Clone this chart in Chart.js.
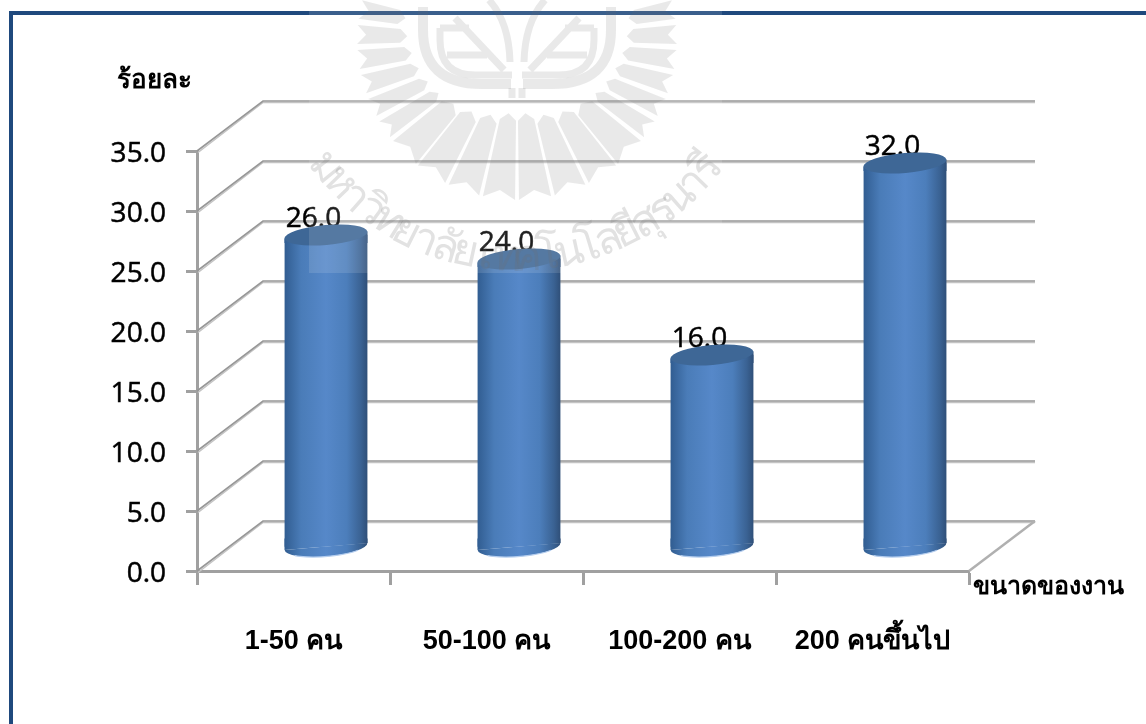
<!DOCTYPE html>
<html>
<head>
<meta charset="utf-8">
<style>html,body{margin:0;padding:0;background:#fff;overflow:hidden}canvas{display:block}</style>
<script src="https://cdn.jsdelivr.net/npm/chart.js@4"></script>
</head>
<body>
<canvas id="c" width="1146" height="724" style="width:1146px;height:724px"></canvas>
<script>
const categories = ["1-50 คน", "50-100 คน", "100-200 คน", "200 คนขึ้นไป"];
const values = [26.0, 24.0, 16.0, 32.0];
const yTitle = "ร้อยละ";
const xTitle = "ขนาดของงาน";
const watermarkClusters = ["ม","ห","า","วิ","ท","ย","า","ลั","ย","เ","ท","ค","โ","น","โ","ล","ยี","สุ","ร","น","า","รี"];

const DX = 66, DY = -50;         // depth of the 3D box
const BX = 32.5, BY = -24;       // bar offset into the box
const TILT = -0.085, RY = 10;
const FONT = '"Open Sans","Liberation Sans",sans-serif';
const THAI = '"Liberation Sans","Noto Sans","DejaVu Sans",sans-serif';

function barGradient(c, xc, w) {
  const g = c.createLinearGradient(xc - w/2, 0, xc + w/2, 0);
  g.addColorStop(0, '#315d91');
  g.addColorStop(0.2, '#4a7cb8');
  g.addColorStop(0.5, '#5688c9');
  g.addColorStop(0.75, '#4c7ebb');
  g.addColorStop(0.92, '#3a6293');
  g.addColorStop(1, '#2f4f78');
  return g;
}

const box3d = {
  id: 'box3d',
  beforeDraw(chart) {
    // nudge the value-axis labels down to sit where the reference has them
    const items = chart.scales.y.getLabelItems();
    if (!items._nudged) {
      items.forEach(it => { it.options.translation[1] += 3; });
      items._nudged = true;
    }
  },
  beforeDatasetsDraw(chart) {
    const c = chart.ctx, y = chart.scales.y, a = chart.chartArea;
    c.save();
    y.ticks.forEach(t => {
      const p = y.getPixelForValue(t.value);
      c.lineCap = 'butt';
      c.strokeStyle = '#c4c4c4'; c.lineWidth = 1.5;
      c.beginPath(); c.moveTo(a.left + 1, p + 1.5); c.lineTo(a.left + DX, p + DY + 1.5); c.lineTo(a.right + DX, p + DY + 1.5); c.stroke();
      c.strokeStyle = '#979797'; c.lineWidth = 1.6;
      c.beginPath(); c.moveTo(a.left, p); c.lineTo(a.left + DX, p + DY); c.lineTo(a.right + DX, p + DY); c.stroke();
    });
    const p0 = y.getPixelForValue(0);
    c.strokeStyle = '#b0b0b0'; c.lineWidth = 2.5;
    c.beginPath(); c.moveTo(a.right, p0); c.lineTo(a.right + DX, p0 + DY); c.stroke();
    // data labels sit behind the cylinder tops
    const meta = chart.getDatasetMeta(0);
    c.fillStyle = '#000'; c.strokeStyle = '#000'; c.lineWidth = 0.5;
    c.font = '28px ' + FONT; c.textAlign = 'center'; c.textBaseline = 'alphabetic';
    meta.data.forEach((b, i) => {
      const s = values[i].toFixed(1);
      c.fillText(s, b.x + 20, b.y + BY - 8);
      c.strokeText(s, b.x + 20, b.y + BY - 8);
    });
    c.restore();
    // slanted clip so that flat bar ends do not poke out of the ellipses
    c.save();
    c.translate(BX, BY);
    c.beginPath();
    meta.data.forEach(b => {
      const l = b.x - b.width/2, r = b.x + b.width/2, s = Math.tan(-TILT) * b.width/2;
      c.moveTo(l, b.y + s); c.lineTo(r, b.y - s); c.lineTo(r, b.base - s); c.lineTo(l, b.base + s); c.closePath();
    });
    c.clip();
  },
  afterDatasetsDraw(chart) {
    const c = chart.ctx;
    c.restore();
    const meta = chart.getDatasetMeta(0);
    c.save();
    c.translate(BX, BY);
    meta.data.forEach(b => {
      const rx = b.width/2, l = b.x - rx, r = b.x + rx, s = Math.tan(-TILT) * rx;
      c.fillStyle = barGradient(c, b.x, b.width);
      // fill the slivers between the flat bar ends and the tilted ellipses
      c.beginPath(); c.moveTo(l, b.base - 8); c.lineTo(r, b.base - 8); c.lineTo(r, b.base - s); c.lineTo(l, b.base + s); c.closePath(); c.fill();
      c.beginPath(); c.moveTo(l, b.y + s); c.lineTo(r, b.y - s); c.lineTo(r, b.y + 8); c.lineTo(l, b.y + 8); c.closePath(); c.fill();
      c.beginPath(); c.ellipse(b.x, b.base, rx, RY, TILT, 0, Math.PI); c.fill();
      c.strokeStyle = '#b4cdee'; c.lineWidth = 1.2;
      c.beginPath(); c.ellipse(b.x, b.base, rx, RY, TILT, 0.7, Math.PI - 0.7); c.stroke();
      c.fillStyle = '#3e6796';
      c.beginPath(); c.ellipse(b.x, b.y, rx, RY, TILT, 0, Math.PI * 2); c.fill();
    });
    c.restore();
    c.save();
    c.fillStyle = '#000';
    c.font = 'bold 26px ' + THAI; c.textBaseline = 'alphabetic'; c.textAlign = 'left';
    c.fillText(yTitle, 117, 88);
    c.font = 'bold 25px ' + THAI;
    c.fillText(xTitle, 973, 594);
    c.restore();
  }
};

function drawLogo(c) {
  const cx = 517, cy = 40, ink = 'rgba(110,110,110,0.15)';
  c.fillStyle = ink; c.strokeStyle = ink;
  const big = [6.5, 19.5, 32.5, 45], thin = [56, 65, 74, 83, 92, 101];
  const ray = (deg, half) => {
    const ab = Math.abs(deg), r0 = 78 + ab / 90 * 38, r1 = 160;
    const a = (90 + deg) * Math.PI / 180, h = half * Math.PI / 180;
    const P = (ang, r) => [cx + Math.cos(ang) * r, cy + Math.sin(ang) * r];
    const pts = [P(a - h, r0), P(a, r0 - 7), P(a + h, r0), P(a + h, r1), P(a, r1 - 9), P(a - h, r1)];
    c.beginPath(); pts.forEach((p, i) => i ? c.lineTo(p[0], p[1]) : c.moveTo(p[0], p[1])); c.closePath(); c.fill();
  };
  [-1, 1].forEach(s => {
    big.forEach(d => ray(s * d, 5.8));
    thin.forEach(d => ray(s * d, 3.4));
  });
  c.lineCap = 'butt';
  c.lineWidth = 10; c.beginPath();
  [-1, 1].forEach(s => {
    const X = d => cx + s * d;
    c.moveTo(X(94), 7); c.lineTo(X(94), 30); c.quadraticCurveTo(X(94), 84, X(35), 84); c.lineTo(X(6), 84);
  });
  c.stroke();
  c.lineWidth = 7; c.beginPath();
  [-1, 1].forEach(s => {
    const X = d => cx + s * d;
    c.moveTo(X(77), 28); c.lineTo(X(77), 40); c.quadraticCurveTo(X(77), 75, X(42), 75); c.lineTo(X(5), 75);
    c.moveTo(X(62), 18); c.lineTo(X(13), 70);
    c.moveTo(X(77), 28); c.lineTo(X(48), 28);
    c.moveTo(X(70), 55); c.lineTo(X(30), 55);
    c.moveTo(X(28), 0); c.quadraticCurveTo(X(8), 22, X(7), 62);
    c.moveTo(X(5), 88); c.lineTo(X(5), 98);
  });
  c.stroke();
}

function drawWatermarkText(c) {
  const cx = 517, cy = 13, R = 258;
  c.font = '44px ' + THAI; c.fillStyle = 'rgba(110,110,110,0.2)';
  c.textAlign = 'center'; c.textBaseline = 'alphabetic';
  const n = watermarkClusters.length, start = 51, end = -51;
  watermarkClusters.forEach((g, i) => {
    const deg = start + (end - start) * i / (n - 1);
    const a = deg * Math.PI / 180;
    c.save();
    c.translate(cx - Math.sin(a) * R, cy + Math.cos(a) * R);
    c.rotate(a);
    c.fillText(g, 0, 0);
    c.restore();
  });
}

const overlay = {
  id: 'overlay',
  afterDraw(chart) {
    const c = chart.ctx;
    c.save();
    // page frame
    c.fillStyle = '#1f497d';
    c.fillRect(9, 11, 1137, 4);
    c.fillRect(9, 11, 4, 713);
    // translucent scanned watermark layer
    c.fillStyle = 'rgba(255,255,255,0.12)';
    c.fillRect(309, 0, 413, 273);
    drawLogo(c);
    drawWatermarkText(c);
    c.restore();
  }
};

Chart.defaults.font.family = FONT;

new Chart(document.getElementById('c'), {
  type: 'bar',
  data: {
    labels: categories,
    datasets: [{
      data: values,
      barThickness: 83,
      borderWidth: 0,
      backgroundColor(ctx) {
        const chart = ctx.chart;
        if (!chart.chartArea) return '#4f81bd';
        const xc = chart.scales.x.getPixelForValue(ctx.dataIndex);
        return barGradient(chart.ctx, xc, 83);
      }
    }]
  },
  plugins: [box3d, overlay],
  options: {
    responsive: false,
    animation: false,
    layout: { padding: { left: 0, right: 177, top: 151, bottom: 0 } },
    plugins: { legend: { display: false }, tooltip: { enabled: false }, title: { display: false } },
    scales: {
      x: {
        afterFit(s) { s.height = 153; },
        grid: { display: true, offset: true, drawOnChartArea: false, drawTicks: true, tickLength: 14, tickWidth: 3, tickColor: '#a0a0a0', color: '#a0a0a0' },
        border: { display: true, color: '#a0a0a0', width: 3 },
        ticks: { color: '#000', padding: 40, maxRotation: 0, autoSkip: false, font: { size: 27, family: THAI, weight: 'bold' } }
      },
      y: {
        min: 0, max: 35,
        afterFit(s) { s.width = 197; },
        grid: { display: true, drawOnChartArea: false, drawTicks: true, tickLength: 11, tickWidth: 3, tickColor: '#a0a0a0', color: '#a0a0a0' },
        border: { display: true, color: '#a0a0a0', width: 3 },
        ticks: { stepSize: 5, color: '#000', padding: 20, textStrokeColor: '#000', textStrokeWidth: 0.5, font: { size: 28, family: FONT }, callback: v => Number(v).toFixed(1) }
      }
    }
  }
});
</script>
</body>
</html>
